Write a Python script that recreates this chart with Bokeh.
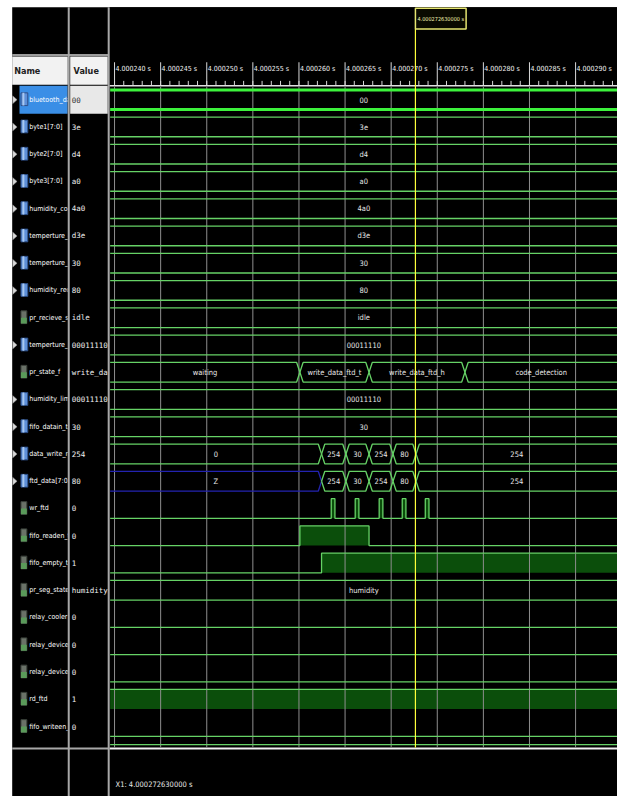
import math
from bokeh.plotting import figure
from bokeh.models import Range1d
from bokeh.core.properties import value
from bokeh.embed import file_html
from bokeh.resources import INLINE

# ---------------- data ----------------
signal_names = ["bluetooth_data", "byte1[7:0]", "byte2[7:0]", "byte3[7:0]",
                "humidity_codec", "temperture_cod", "temperture_reci", "humidity_reciev",
                "pr_recieve_state", "temperture_limi", "pr_state_f", "humidity_limit_v",
                "fifo_datain_t[7:0]", "data_write_regi", "ftd_data[7:0]", "wr_ftd",
                "fifo_readen_t", "fifo_empty_t", "pr_seg_state", "relay_cooler",
                "relay_device1", "relay_device2", "rd_ftd", "fifo_writeen_t"]
signal_values = ["00", "3e", "d4", "a0", "4a0", "d3e", "30", "80", "idle", "00011110",
                 "write_data_ftd_h", "00011110", "30", "254", "80", "0", "0", "1",
                 "humidity", "0", "0", "0", "1", "0"]
signal_kinds = ["vec", "vec", "vec", "vec", "vec", "vec", "vec", "vec",
                "enum", "vec", "enum", "vec", "vec", "vec", "vec",
                "bit", "bit", "bit", "enum", "bit", "bit", "bit", "bit", "bit"]

# constant buses (row index, shown value)
const_bus_rows = [0, 1, 2, 3, 4, 5, 6, 7, 8, 9, 11, 12, 18]
const_bus_texts = ["00", "3e", "d4", "a0", "4a0", "d3e", "30", "80", "idle",
                   "00011110", "00011110", "30", "humidity"]

# times are microseconds after 4 s
pr_state_row = 10
pr_state_edges = [260.1, 267.6, 278.0]
pr_state_texts = ["waiting", "write_data_ftd_t", "write_data_ftd_h", "code_detection"]

data_write_row = 13
ftd_data_row = 14
write_edges = [262.45, 265.1, 267.6, 270.2, 272.7]
data_write_texts = ["0", "254", "30", "254", "80", "254"]
ftd_data_texts = ["Z", "254", "30", "254", "80", "254"]

bit_rows = [15, 16, 17, 19, 20, 21, 22, 23]
bit_initial = [0, 0, 0, 0, 0, 0, 1, 0]
bit_toggles = [
    [263.5, 263.9, 266.1, 266.5, 268.7, 269.1, 271.2, 271.6, 273.7, 274.1],  # wr_ftd
    [260.1, 267.6],      # fifo_readen_t
    [262.45],            # fifo_empty_t
    [], [], [],          # relays
    [],                  # rd_ftd
    [],                  # fifo_writeen_t
]

tick_times = [240, 245, 250, 255, 260, 265, 270, 275, 280, 285, 290]
tick_labels = ["4.000240 s", "4.000245 s", "4.000250 s", "4.000255 s", "4.000260 s",
               "4.000265 s", "4.000270 s", "4.000275 s", "4.000280 s", "4.000285 s",
               "4.000290 s"]
minor_tick_times = list(range(240, 295))
cursor_time = 272.63
cursor_label = "4.000272630000 s"
cursor_readout = "X1: 4.000272630000 s"

# ---------------- layout helpers (pixel layout of the viewer) ----------------
PX_PER_US = 9.46
def Xt(X):
    return 240.0 + (X - 117.0) / PX_PER_US
def Yr(Y):
    return (Y - 101.2) / 27.8
def rowY(r):
    return 101.2 + 27.8 * r
H = 10.0 / 27.8
D = 3.3 / PX_PER_US
T_LO = Xt(112.5)
T_HI = Xt(640)

NARROW = value("DejaVu Sans Condensed, Liberation Sans")
MONO = value("DejaVu Sans Mono")
GREEN = "#66d266"
BRIGHT = "#3cf23c"
FILLG = "#0b4e0b"
GRID = "#8e8e8e"

p = figure(width=617, height=796, x_range=Range1d(Xt(0), Xt(633)),
           y_range=Range1d(Yr(812), Yr(0)), output_backend="svg",
           toolbar_location=None, x_axis_location=None, y_axis_location=None,
           min_border=0)
p.grid.visible = False
p.outline_line_color = None
p.background_fill_color = "white"
p.border_fill_color = "white"

# background
p.quad(left=[Xt(12)], right=[Xt(700)], top=[Yr(7)], bottom=[Yr(900)],
       fill_color="black", line_color=None)
# name/value header
p.quad(left=[Xt(12), Xt(71.5)], right=[Xt(69), Xt(110)], top=[Yr(57), Yr(57)],
       bottom=[Yr(86), Yr(86)], fill_color="#f2f2f2", line_color=None)
p.segment(x0=[Xt(12)], x1=[Xt(111)], y0=[Yr(55.5)], y1=[Yr(55.5)],
          line_color="#9c9c9c", line_width=2)
p.text(x=[Xt(14), Xt(75)], y=[Yr(72), Yr(72)], text=["Name", "Value"],
       text_font=NARROW, text_font_size="9px", text_font_style="bold",
       text_color="#202020", text_baseline="middle", text_align="left")

# selected row highlight
p.quad(left=[Xt(19.5)], right=[Xt(69)], top=[Yr(87)], bottom=[Yr(115.5)],
       fill_color="#3a8ee6", line_color=None)

# expander triangles and icons
tri_xs, tri_ys = [], []
vec_l, vec_r, vec_t, vec_b = [], [], [], []
sc_l, sc_r, sc_t, sc_b, scg_t = [], [], [], [], []
for r, k in enumerate(signal_kinds):
    c = rowY(r)
    if k == "vec":
        tri_xs.append([Xt(12.5), Xt(12.5), Xt(17)])
        tri_ys.append([Yr(c - 4), Yr(c + 4), Yr(c)])
        vec_l.append(Xt(21)); vec_r.append(Xt(28)); vec_t.append(Yr(c - 7)); vec_b.append(Yr(c + 6))
    else:
        sc_l.append(Xt(21)); sc_r.append(Xt(27)); sc_t.append(Yr(c - 7)); sc_b.append(Yr(c + 6))
        scg_t.append(Yr(c))
p.patches(xs=tri_xs, ys=tri_ys, fill_color="#d8d8d8", line_color="#888888", line_width=0.5)
p.quad(left=vec_l, right=vec_r, top=vec_t, bottom=vec_b, fill_color="#5d8fd8", line_color="#2d4f88")
p.quad(left=[x + 1.5 / PX_PER_US for x in vec_l], right=[x + 3.5 / PX_PER_US for x in vec_l],
       top=vec_t, bottom=vec_b, fill_color="#a9c8f0", line_color=None)
p.quad(left=sc_l, right=sc_r, top=sc_t, bottom=sc_b, fill_color="#6a7268", line_color="#3a403a")
p.quad(left=sc_l, right=sc_r, top=scg_t, bottom=sc_b, fill_color="#5a9a5a", line_color=None)

# names
name_y = [Yr(rowY(r)) for r in range(len(signal_names))]
p.text(x=[Xt(29.5)] * len(signal_names), y=name_y, text=signal_names,
       text_font=NARROW, text_font_size="7px", text_color="#ffffff",
       text_baseline="middle", text_align="left")

# value column (clips names)
p.quad(left=[Xt(69)], right=[Xt(112)], top=[Yr(86.5)], bottom=[Yr(900)],
       fill_color="black", line_color=None)
p.quad(left=[Xt(71.5)], right=[Xt(110)], top=[Yr(87)], bottom=[Yr(115.5)],
       fill_color="#e8e8e8", line_color=None)
val_colors = ["#303030"] + ["#f0f0f0"] * (len(signal_values) - 1)
p.text(x=[Xt(73)] * len(signal_values), y=name_y, text=signal_values,
       text_font=MONO, text_font_size="7.5px", text_color=val_colors,
       text_baseline="middle", text_align="left")

# waveform panel background (clips values)
p.quad(left=[Xt(111)], right=[Xt(700)], top=[Yr(7)], bottom=[Yr(900)],
       fill_color="black", line_color=None)

# separators
p.segment(x0=[Xt(70), Xt(111)], x1=[Xt(70), Xt(111)], y0=[Yr(7), Yr(7)],
          y1=[Yr(900), Yr(900)], line_color="#a8a8a8", line_width=2)
p.segment(x0=[Xt(12)], x1=[Xt(111)], y0=[Yr(763)], y1=[Yr(763)],
          line_color="#a8a8a8", line_width=2)
p.segment(x0=[Xt(112)], x1=[Xt(700)], y0=[Yr(763)], y1=[Yr(763)],
          line_color="#f0f0f0", line_width=2)

# time ruler
p.segment(x0=tick_times, x1=tick_times, y0=[Yr(63)] * len(tick_times),
          y1=[Yr(87)] * len(tick_times), line_color="#d8d8d8", line_width=1)
p.segment(x0=minor_tick_times, x1=minor_tick_times, y0=[Yr(82)] * len(minor_tick_times),
          y1=[Yr(87)] * len(minor_tick_times), line_color="#d8d8d8", line_width=1)
p.segment(x0=[Xt(112)], x1=[Xt(700)], y0=[Yr(87)], y1=[Yr(87)],
          line_color="#e0e0e0", line_width=1.5)
p.text(x=[t + 1.0 / PX_PER_US for t in tick_times], y=[Yr(70)] * len(tick_times),
       text=tick_labels, text_font=NARROW, text_font_size="7px", text_color="#f0f0f0",
       text_baseline="middle", text_align="left")

# digital high fills
fill_l, fill_r, fill_t, fill_b = [], [], [], []
bit_paths_x, bit_paths_y = [], []
for r, v0, toggles in zip(bit_rows, bit_initial, bit_toggles):
    y_hi, y_lo = r - H, r + H
    level = v0
    xs = [T_LO]
    ys = [y_hi if level else y_lo]
    start = T_LO
    for t in toggles:
        if level:
            fill_l.append(start); fill_r.append(t); fill_t.append(y_hi); fill_b.append(y_lo)
        xs.extend([t, t])
        ys.extend([y_hi if level else y_lo, y_lo if level else y_hi])
        level = 1 - level
        start = t
    if level:
        fill_l.append(start); fill_r.append(T_HI); fill_t.append(y_hi); fill_b.append(y_lo)
    xs.append(T_HI)
    ys.append(y_hi if level else y_lo)
    bit_paths_x.append(xs)
    bit_paths_y.append(ys)
p.quad(left=fill_l, right=fill_r, top=fill_t, bottom=fill_b, fill_color=FILLG, line_color=None)

# grid
p.segment(x0=tick_times, x1=tick_times, y0=[Yr(88)] * len(tick_times),
          y1=[Yr(762)] * len(tick_times), line_color=GRID, line_width=1)

p.multi_line(xs=bit_paths_x, ys=bit_paths_y, line_color=GREEN, line_width=1.3)

# bus drawing
bus_xs, bus_ys, bus_col, bus_w = [], [], [], []
txt_x, txt_y, txt_s = [], [], []
def add_bus(row, edges, texts, width=1.3, color=GREEN):
    bounds = [T_LO] + list(edges) + [T_HI]
    for i, s in enumerate(texts):
        a, b = bounds[i], bounds[i + 1]
        lt = i > 0
        rt = i < len(texts) - 1
        col = "#2323b0" if s == "Z" else color
        top_x = ([a] if lt else []) + [a + D if lt else a, b - D if rt else b] + ([b] if rt else [])
        top_y = ([row] if lt else []) + [row - H, row - H] + ([row] if rt else [])
        bot_y = ([row] if lt else []) + [row + H, row + H] + ([row] if rt else [])
        bus_xs.extend([top_x, top_x])
        bus_ys.extend([top_y, bot_y])
        bus_col.extend([col, col])
        bus_w.extend([width, width])
        vis_a, vis_b = max(a, T_LO), min(b, Xt(633))
        txt_x.append((vis_a + vis_b) / 2.0)
        txt_y.append(row)
        txt_s.append(s)

for r, s in zip(const_bus_rows, const_bus_texts):
    if r == 0:
        add_bus(r, [], [s], width=3, color=BRIGHT)
    else:
        add_bus(r, [], [s])
add_bus(pr_state_row, pr_state_edges, pr_state_texts)
add_bus(data_write_row, write_edges, data_write_texts)
add_bus(ftd_data_row, write_edges, ftd_data_texts)
p.multi_line(xs=bus_xs, ys=bus_ys, line_color=bus_col, line_width=bus_w)
# partially visible next row
p.segment(x0=[T_LO], x1=[T_HI], y0=[Yr(759)], y1=[Yr(759)], line_color=GREEN, line_width=1.3)

p.text(x=txt_x, y=txt_y, text=txt_s, text_font=NARROW, text_font_size="7.5px",
       text_color="#e8e8e8", text_baseline="middle", text_align="center")

# cursor
cw = 52.0 / PX_PER_US
p.segment(x0=[cursor_time], x1=[cursor_time], y0=[Yr(29)], y1=[Yr(762)],
          line_color="#ffff3a", line_width=1.2)
p.quad(left=[cursor_time], right=[cursor_time + cw], top=[Yr(8)], bottom=[Yr(29)],
       fill_color="#0a0a00", line_color="#e6e670", line_width=1.5)
p.text(x=[cursor_time + cw / 2], y=[Yr(18.5)], text=[cursor_label], text_font=NARROW,
       text_font_size="5.5px", text_color="#f4f4b0", text_baseline="middle", text_align="center")

p.text(x=[Xt(118)], y=[Yr(800)], text=[cursor_readout], text_font=NARROW,
       text_font_size="7.5px", text_color="#e8e8e8", text_baseline="middle", text_align="left")

open("out.html", "w").write(file_html(p, INLINE))
